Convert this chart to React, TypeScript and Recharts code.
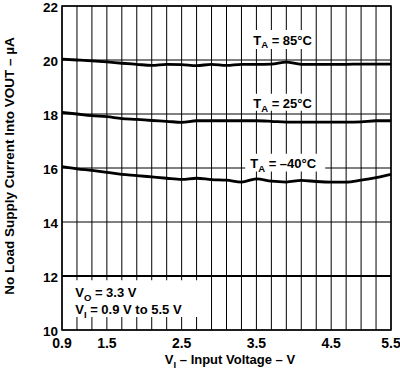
import React from "react";
import {
  LineChart,
  Line,
  XAxis,
  YAxis,
  CartesianGrid,
  ReferenceArea,
  ReferenceLine,
  Label,
} from "recharts";

// grid is drawn every 0.2 V
const volts = [
  0.9, 1.1, 1.3, 1.5, 1.7, 1.9, 2.1, 2.3, 2.5, 2.7, 2.9, 3.1, 3.3, 3.5, 3.7,
  3.9, 4.1, 4.3, 4.5, 4.7, 4.9, 5.1, 5.3,
];
const ta85 = [
  20.03, 20.0, 19.97, 19.93, 19.88, 19.84, 19.8, 19.84, 19.83, 19.79, 19.84,
  19.8, 19.84, 19.84, 19.85, 19.92, 19.84, 19.84, 19.84, 19.84, 19.85, 19.85,
  19.85,
];
const ta25 = [
  18.06, 18.0, 17.94, 17.9, 17.83, 17.8, 17.76, 17.73, 17.69, 17.75, 17.75,
  17.75, 17.75, 17.75, 17.73, 17.7, 17.7, 17.7, 17.7, 17.7, 17.71, 17.75,
  17.75,
];
const taMinus40 = [
  16.05, 15.97, 15.91, 15.84, 15.76, 15.72, 15.67, 15.62, 15.58, 15.62, 15.57,
  15.55, 15.48, 15.6, 15.51, 15.48, 15.54, 15.5, 15.48, 15.48, 15.55, 15.64,
  15.76,
];

const xLabelTicks = [0.9, 1.5, 2.5, 3.5, 4.5, 5.3];
const xTickLabels = ["0.9", "1.5", "2.5", "3.5", "4.5", "5.5"];
const yTicks = [10, 12, 14, 16, 18, 20, 22];

const data = volts.map((v, i) => ({
  v,
  ta85: ta85[i],
  ta25: ta25[i],
  taMinus40: taMinus40[i],
}));

const FONT = "'Liberation Sans', Arial, Helvetica, sans-serif";

const formatX = (v: number) => {
  const i = xLabelTicks.findIndex((t) => Math.abs(t - v) < 1e-6);
  return i >= 0 ? xTickLabels[i] : "";
};

const YTick = (props: any) => {
  const { x, y, payload } = props;
  return (
    <text
      x={x}
      y={y + 5.5}
      textAnchor="end"
      fontFamily={FONT}
      fontWeight={700}
      fontSize={13.5}
      fill="#000"
    >
      {payload.value}
    </text>
  );
};

const tempLabel = (temp: string, dx: number) => (props: any) => {
  const { x, y } = props.viewBox;
  return (
    <text
      x={x + dx}
      y={y + 14.5}
      fontFamily={FONT}
      fontWeight={700}
      fontSize={13}
      fill="#000"
    >
      <tspan>T</tspan>
      <tspan fontSize={9.5} dy={3.5}>
        A
      </tspan>
      <tspan dy={-3.5}>{` = ${temp}`}</tspan>
    </text>
  );
};

const conditionsLabel = (props: any) => {
  const { x, y } = props.viewBox;
  return (
    <text fontFamily={FONT} fontWeight={700} fontSize={13} fill="#000">
      <tspan x={x + 11} y={y + 17}>
        V
      </tspan>
      <tspan fontSize={9.5} dy={3.5}>
        O
      </tspan>
      <tspan dy={-3.5}> = 3.3 V</tspan>
      <tspan x={x + 11} y={y + 34}>
        V
      </tspan>
      <tspan fontSize={9.5} dy={3.5}>
        I
      </tspan>
      <tspan dy={-3.5}> = 0.9 V to 5.5 V</tspan>
    </text>
  );
};

const App: React.FC = () => {
  return (
    <div
      style={{
        position: "absolute",
        left: 0,
        top: 0,
        width: 400,
        height: 374,
        background: "#fff",
      }}
    >
      <LineChart
        width={400}
        height={374}
        data={data}
        margin={{ top: 6, right: 9, left: 0, bottom: 0 }}
      >
        <CartesianGrid stroke="#000" strokeWidth={1} />
        <XAxis
          dataKey="v"
          type="number"
          domain={[0.9, 5.3]}
          ticks={volts}
          interval={0}
          tickFormatter={formatX}
          tickLine={false}
          axisLine={false}
          tickSize={0}
          tickMargin={8}
          height={44}
          tick={{ fill: "#000", fontSize: 14, fontWeight: 700, fontFamily: FONT }}
        >
          <Label
            content={() => (
              <text
                x={230}
                y={364}
                textAnchor="middle"
                fontFamily={FONT}
                fontWeight={700}
                fontSize={13}
                fill="#000"
              >
                <tspan>V</tspan>
                <tspan fontSize={9.5} dy={3.5}>
                  I
                </tspan>
                <tspan dy={-3.5}> – Input Voltage – V</tspan>
              </text>
            )}
          />
        </XAxis>
        <YAxis
          type="number"
          domain={[10, 22]}
          ticks={yTicks}
          interval={0}
          tickLine={false}
          axisLine={false}
          tickSize={0}
          tickMargin={4}
          width={62}
          tick={<YTick />}
        >
          <Label
            content={() => (
              <text
                transform="translate(14,166) rotate(-90)"
                textAnchor="middle"
                fontFamily={FONT}
                fontWeight={700}
                fontSize={13.5}
                fill="#000"
              >
                No Load Supply Current Into VOUT – µA
              </text>
            )}
          />
        </YAxis>
        <ReferenceLine y={12} stroke="#000" strokeWidth={2} />
        <ReferenceArea
          x1={3.33}
          x2={4.28}
          y1={20.41}
          y2={21.11}
          fill="#fff"
          fillOpacity={1}
          stroke="none"
          label={tempLabel("85°C", 9.5)}
        />
        <ReferenceArea
          x1={3.33}
          x2={4.28}
          y1={18.12}
          y2={18.75}
          fill="#fff"
          fillOpacity={1}
          stroke="none"
          label={tempLabel("25°C", 9.5)}
        />
        <ReferenceArea
          x1={3.35}
          x2={4.42}
          y1={15.87}
          y2={16.53}
          fill="#fff"
          fillOpacity={1}
          stroke="none"
          label={tempLabel("–40°C", 5)}
        />
        <ReferenceArea
          x1={0.93}
          x2={2.78}
          y1={10.48}
          y2={11.845}
          fill="#fff"
          fillOpacity={1}
          stroke="none"
          label={conditionsLabel}
        />
        <ReferenceArea
          x1={0.9}
          x2={5.3}
          y1={10}
          y2={22}
          fill="none"
          stroke="#000"
          strokeWidth={1.5}
        />
        <Line
          type="monotone"
          dataKey="ta85"
          stroke="#000"
          strokeWidth={2.8}
          dot={false}
          isAnimationActive={false}
        />
        <Line
          type="monotone"
          dataKey="ta25"
          stroke="#000"
          strokeWidth={2.8}
          dot={false}
          isAnimationActive={false}
        />
        <Line
          type="monotone"
          dataKey="taMinus40"
          stroke="#000"
          strokeWidth={2.8}
          dot={false}
          isAnimationActive={false}
        />
      </LineChart>
    </div>
  );
};

export default App;
